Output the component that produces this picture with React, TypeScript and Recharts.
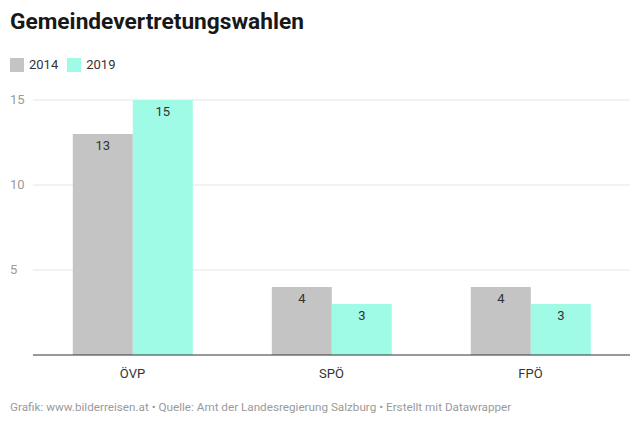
import { BarChart, Bar, XAxis, YAxis, CartesianGrid, LabelList } from "recharts";

const parties = ["ÖVP", "SPÖ", "FPÖ"];
const seats2014 = [13, 4, 4];
const seats2019 = [15, 3, 3];
const yTicks = [5, 10, 15];

const data = parties.map((p, i) => ({ party: p, y2014: seats2014[i], y2019: seats2019[i] }));

const FONT = "Roboto, 'Noto Sans', sans-serif";

const YTick = (props: any) => {
  const { y, payload } = props;
  return (
    <text x={10} y={y} dy={4} textAnchor="start" fontSize={13} fill="#9a9a9a" fontFamily={FONT}>
      {payload.value}
    </text>
  );
};

export default function App() {
  return (
    <div style={{ position: "fixed", left: 0, top: 0, width: 640, height: 434, background: "#fff", fontFamily: FONT }}>
      <div style={{ position: "absolute", left: 10, top: 8, fontSize: 22.7, fontWeight: 700, color: "#181818" }}>
        Gemeindevertretungswahlen
      </div>
      <div style={{ position: "absolute", left: 10, top: 57, display: "flex", alignItems: "center", fontSize: 13, color: "#333" }}>
        <span style={{ width: 14, height: 14, background: "#c4c4c4", display: "inline-block", marginRight: 5 }} />
        <span style={{ marginRight: 9 }}>2014</span>
        <span style={{ width: 14, height: 14, background: "#9ffbe6", display: "inline-block", marginRight: 5 }} />
        <span>2019</span>
      </div>
      <div style={{ position: "absolute", left: 0, top: 80 }}>
        <BarChart
          width={640}
          height={305}
          data={data}
          margin={{ top: 20, right: 10, left: 0, bottom: 0 }}
          barCategoryGap="20%"
          barGap={0}
        >
          <CartesianGrid vertical={false} stroke="#e5e5e5" horizontalValues={yTicks} />
          <XAxis
            dataKey="party"
            height={30}
            tickLine={false}
            axisLine={{ stroke: "#333", strokeWidth: 1 }}
            tick={{ fontSize: 13, fill: "#333", fontFamily: FONT }}
            tickMargin={8}
          />
          <YAxis
            width={33}
            domain={[0, 15]}
            ticks={yTicks}
            axisLine={false}
            tickLine={false}
            tick={<YTick />}
          />
          <Bar dataKey="y2014" fill="#c4c4c4" isAnimationActive={false}>
            <LabelList dataKey="y2014" position="insideTop" offset={7} fontSize={13} fill="#333" fontFamily={FONT} />
          </Bar>
          <Bar dataKey="y2019" fill="#9ffbe6" isAnimationActive={false}>
            <LabelList dataKey="y2019" position="insideTop" offset={7} fontSize={13} fill="#333" fontFamily={FONT} />
          </Bar>
        </BarChart>
      </div>
      <div style={{ position: "absolute", left: 10, top: 400, fontSize: 11.7, color: "#9a9a9a" }}>
        Grafik: www.bilderreisen.at • Quelle: Amt der Landesregierung Salzburg • Erstellt mit Datawrapper
      </div>
    </div>
  );
}
